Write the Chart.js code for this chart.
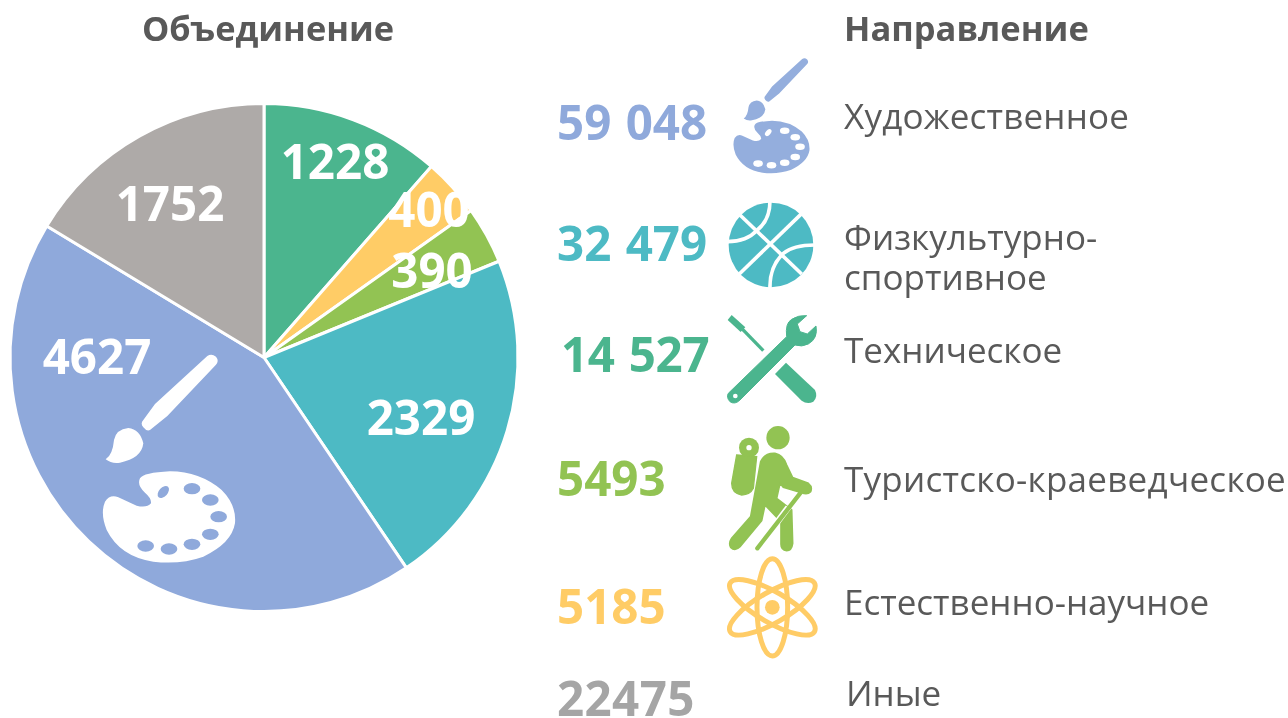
<!DOCTYPE html>
<html><head><meta charset="utf-8">
<script src="https://cdn.jsdelivr.net/npm/chart.js@4"></script>
<style>
html,body{margin:0;padding:0;background:#fff;overflow:hidden}
#w{position:relative;width:1288px;height:718px;font-family:"Open Sans",sans-serif}
canvas{position:absolute;left:0;top:0}
.t{position:absolute;white-space:nowrap;color:#595959;font-size:35px;line-height:40px}
.b{font-weight:700}
svg{position:absolute;left:0;top:0}
</style></head><body>
<div id="w"><canvas id="c" width="1288" height="718"></canvas><div id="o"></div></div>
<script>
const categories=["Техническое","Естественно-научное","Туристско-краеведческое","Физкультурно-спортивное","Художественное","Иные"];
const associations=[1228,400,390,2329,4627,1752];
const colors=["#4BB58E","#FFCC66","#92C353","#4DBAC4","#8FA9DB","#AEAAA8"];
const directions=["Художественное","Физкультурно-\nспортивное","Техническое","Туристско-краеведческое","Естественно-научное","Иные"];
const directionTotals=["59 048","32 479","14 527","5493","5185","22475"];
const totalColors=["#8FA9DB","#4DBAC4","#4BB58E","#92C353","#FFCC66","#A5A5A5"];
new Chart(document.getElementById('c'),{type:'pie',
 data:{labels:categories,datasets:[{data:associations,backgroundColor:colors,borderColor:'#fff',borderWidth:3}]},
 options:{responsive:false,animation:false,rotation:0,
  layout:{padding:{left:8,top:102,right:768,bottom:105}},
  plugins:{legend:{display:false},tooltip:{enabled:false}}},
 plugins:[{id:'vals',afterDatasetsDraw(ch){
  const c=ch.ctx;
  const pos=[[335,165],[429,213],[432,274],[421,421],[97,360],[170,207]];
  c.save();c.fillStyle='#fff';c.font='700 47.5px "Open Sans"';c.textAlign='center';c.textBaseline='middle';
  associations.forEach((v,i)=>c.fillText(String(v),pos[i][0],pos[i][1]));c.restore();
 }}]});
const o=document.getElementById('o');
function t(s,x,y,cl,st){const d=document.createElement('div');d.className='t '+(cl||'');d.textContent=s;d.style.left=x+'px';d.style.top=y+'px';Object.assign(d.style,st||{});o.appendChild(d);}
t("Объединение",142,8,'b',{fontSize:'34.4px'});t("Направление",844,8,'b',{fontSize:'34.5px'});
const ty=[96,217,328,452,580,672],tx=[557,557,561,557,557,557],tsp=['0','0','-.3px','0','0','.4px'];
directionTotals.forEach((s,i)=>t(s,tx[i],ty[i],'b',{color:totalColors[i],fontSize:'47.5px',lineHeight:'52px',wordSpacing:'2px',letterSpacing:tsp[i]}));
const ly=[96,[217,257],330,459,582,673],lx=[844,844,844,844,844,846],lsp=['.2px','0','0','.27px','0','0'];
directions.forEach((s,i)=>{const p=s.split("\n");if(p.length>1){p.forEach((q,j)=>t(q,lx[i],ly[i][j]));}else t(s,lx[i],ly[i],'',{letterSpacing:lsp[i]});});
const HANDLE="M352 48Q365 40 378 50Q388 62 378 74L232 228L180 270Q170 275 160 262Q150 250 160 240L195 192Z";
const HEAD="M47 358Q68 345 72 300Q78 268 115 264Q150 268 160 310Q155 355 90 368Q65 372 47 358Z";
const PAL="M150 415Q160 398 240 394Q330 395 395 450Q440 495 435 550Q425 610 340 650Q270 675 190 665Q90 650 50 570Q30 520 45 485Q60 462 85 472L140 497Q170 505 183 490Q185 475 165 458Q140 435 150 415Z";
const holes=[[306,446],[361,480],[386,530],[361,583],[306,613],[237,627],[167,618]];
function palette(col,hole,tr){return `<g transform="${tr}"><path fill="${col}" d="${PAL}"/>${holes.map(a=>`<ellipse cx="${a[0]}" cy="${a[1]}" rx="25" ry="17" fill="${hole}"/>`).join('')}<ellipse cx="220" cy="456" rx="13" ry="21" transform="rotate(42 220 456)" fill="${hole}"/></g>`;}
function brush(col,tr){return `<g transform="${tr}" fill="${col}"><path d="${HANDLE}"/><path d="${HEAD}"/></g>`;}
const svg=`<svg width="1288" height="718" viewBox="0 0 1288 718">
${brush('#fff','translate(90,340) scale(.3333)')}
${palette('#fff','#8FA9DB','translate(90,340) scale(.3333)')}
${brush('#94AEDD','translate(734.7,49.8) scale(.1917)')}
${palette('#94AEDD','#fff','translate(726.05,45.15) scale(.1917)')}
<g transform="translate(720,50) scale(.3333)"><circle cx="153" cy="585" r="127" fill="#4DBAC4"/><g fill="none" stroke="#fff" stroke-width="11"><path d="M60 495L245 672"/><path d="M248 488L58 672"/><path d="M150 452Q150 510 112 540Q80 575 22 575"/><path d="M150 715Q148 650 190 610Q220 585 284 585"/></g></g>
<g transform="translate(720,310) scale(.3333)" fill="#4BB58E">
<path d="M35 15L76 52L62 66L23 30Z"/><path d="M65 55L130 122" stroke="#4BB58E" stroke-width="10" fill="none"/>
<path d="M25 250L200 80Q195 40 215 28Q235 15 260 17L232 42L240 65L262 72L288 48Q295 85 265 102Q245 112 225 105L60 270Q45 285 30 275Q18 262 25 250Z" stroke="#4BB58E" stroke-width="3"/><circle cx="46" cy="258" r="7" fill="#fff"/>
<path d="M198 158L285 240Q295 260 280 275Q262 285 245 272L165 192Z"/></g>
<g transform="translate(720,310) scale(.3333)" fill="#92C353">
<circle cx="174" cy="383" r="35"/><circle cx="87" cy="413" r="30"/><circle cx="87" cy="413" r="8" fill="#fff"/>
<path d="M50 435L110 440L100 535Q90 555 65 555Q35 550 35 520Z" stroke="#92C353" stroke-width="4"/>
<path d="M122 455Q135 428 165 430Q190 435 200 465L218 503L265 520Q278 530 272 545Q262 555 245 548L190 532L180 520L170 565L215 600L218 700Q215 722 200 722Q182 720 183 700L183 635L135 585L125 632L60 710Q45 725 32 712Q25 700 35 685L92 620Z" stroke="#92C353" stroke-width="5"/>
<path d="M205 592L112 715" stroke="#fff" stroke-width="19" fill="none"/>
<path d="M242 548L112 715" stroke="#92C353" stroke-width="13" stroke-linecap="round" fill="none"/></g>
<g transform="translate(720,310) scale(.3333)"><g fill="none" stroke="#FFCC66" stroke-width="15"><ellipse cx="157" cy="892" rx="46" ry="146"/><ellipse cx="157" cy="892" rx="46" ry="146" transform="rotate(60 157 892)"/><ellipse cx="157" cy="892" rx="46" ry="146" transform="rotate(-60 157 892)"/></g><circle cx="157" cy="892" r="22" fill="#FFCC66"/></g>
</svg>`;
o.insertAdjacentHTML('beforeend',svg);
</script></body></html>
